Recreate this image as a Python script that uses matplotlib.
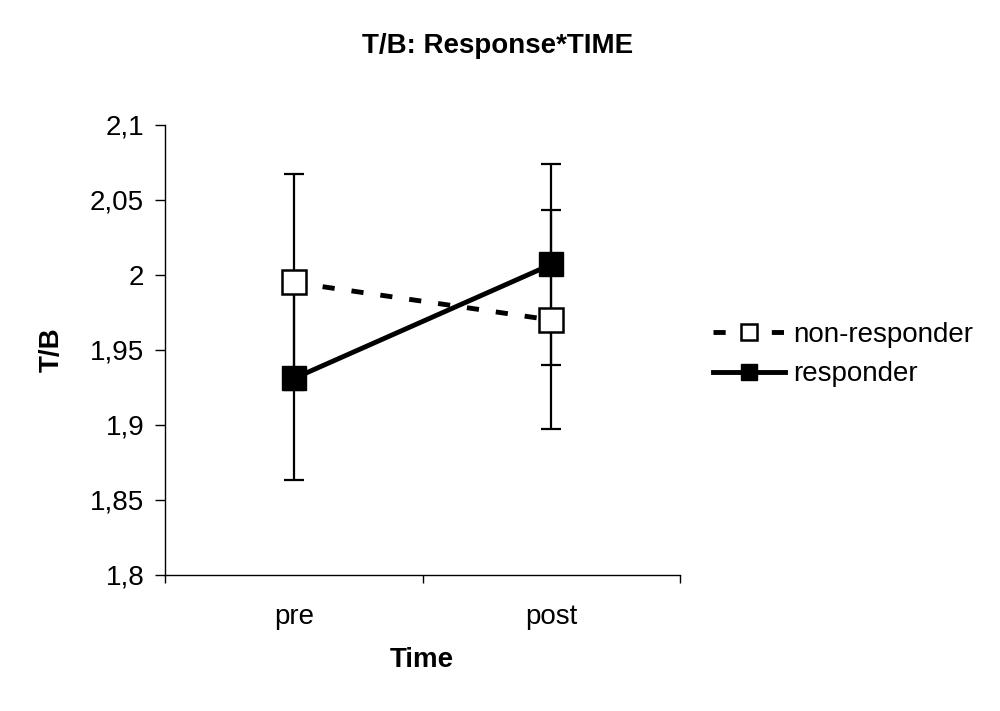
import matplotlib.pyplot as plt
import matplotlib.ticker as mticker

plt.rcParams['font.family'] = ['Liberation Sans', 'DejaVu Sans']

# données
temps = ["pre", "post"]
non_resp = [1.995, 1.970]
non_resp_err = [0.072, 0.073]
resp = [1.931, 2.007]
resp_err = [0.068, 0.067]
yticks = [1.8, 1.85, 1.9, 1.95, 2.0, 2.05, 2.1]

fig = plt.figure(figsize=(10, 7.11), dpi=100)
ax = fig.add_axes([0.165, 0.1913, 0.515, 0.6329])

x = [0.5, 1.5]

# barres d'erreur
ax.errorbar(x, non_resp, yerr=non_resp_err, fmt='none', ecolor='black',
            elinewidth=1.6, capsize=7, capthick=1.6, zorder=2)
ax.errorbar(x, resp, yerr=resp_err, fmt='none', ecolor='black',
            elinewidth=1.6, capsize=7, capthick=1.6, zorder=2)

# courbes
ax.plot(x, non_resp, color='black', lw=3.5, linestyle=(0, (2.5, 3.5)),
        marker='s', markersize=17, markerfacecolor='white',
        markeredgecolor='black', markeredgewidth=1.8,
        label='non-responder', zorder=3)
ax.plot(x, resp, color='black', lw=3.5, linestyle='-',
        marker='s', markersize=17, markerfacecolor='black',
        markeredgecolor='black', label='responder', zorder=4)

ax.set_xlim(0, 2)
ax.set_ylim(1.8, 2.1)
ax.set_xticks([0, 1, 2])
ax.set_xticklabels([])
ax.xaxis.set_minor_locator(mticker.FixedLocator(x))
ax.xaxis.set_minor_formatter(mticker.FixedFormatter(temps))
ax.tick_params(axis='x', which='minor', length=0, pad=21, labelsize=20)
ax.tick_params(axis='x', which='major', direction='out', length=6, width=1)
ax.set_yticks(yticks)
ax.set_yticklabels([f"{v:g}".replace('.', ',') for v in yticks])
ax.tick_params(axis='y', direction='out', length=7, width=1, labelsize=20, pad=8)

for s in ['top', 'right']:
    ax.spines[s].set_visible(False)
for s in ['left', 'bottom']:
    ax.spines[s].set_linewidth(1)

fig.text(0.498, 0.935, "T/B: Response*TIME", ha='center', va='center',
         fontsize=20, fontweight='bold')
fig.text(0.422, 0.072, "Time", ha='center', va='center',
         fontsize=20, fontweight='bold')
fig.text(0.052, 0.508, "T/B", ha='center', va='center', rotation=90,
         fontsize=20, fontweight='bold')

ax.legend(loc='center left', bbox_to_anchor=(1.015, 0.49), frameon=False,
          fontsize=20, handlelength=2.6, handletextpad=0.3, labelspacing=0.5,
          markerscale=0.7)

fig.savefig("out.png", dpi=100)
